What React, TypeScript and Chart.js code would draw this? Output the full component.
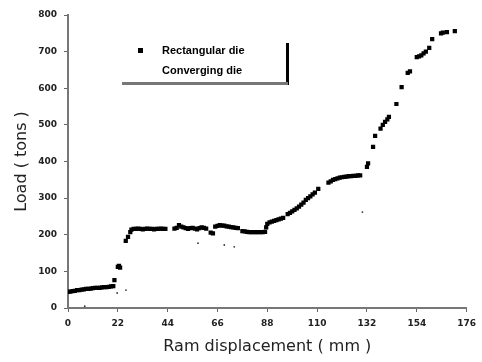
import React, { useEffect, useRef } from "react";
import { Chart, registerables } from "chart.js";

Chart.register(...registerables);

const xTicks = [0, 22, 44, 66, 88, 110, 132, 154, 176];
const yTicks = [0, 100, 200, 300, 400, 500, 600, 700, 800];

const seriesNames = ["Rectangular die", "Converging die"];

const rectX = [
  0, 1, 2, 3, 4, 5, 6, 7, 8, 9, 10, 11, 12, 13, 14, 15, 16, 17, 18, 19, 20, 20.5,
  22, 22.5, 23, 25.5, 26.5, 27.5,
  28, 29, 30, 31, 32, 33, 34, 35, 36, 37, 38, 39, 40, 41, 42, 43,
  47, 48, 49, 50, 51, 52, 53, 54, 55, 56, 57, 58, 59, 60, 61,
  63, 64,
  65, 66, 67, 68, 69, 70, 71, 72, 73, 74, 75,
  77, 78, 79, 80, 81, 82, 83, 84, 85, 86, 87,
  87.5, 88, 89, 90, 91, 92, 93, 94, 95,
  97, 98, 99, 100, 101, 102, 103, 104, 105, 106, 107, 108, 109, 110.5,
  115, 116, 117, 118, 119, 120, 121, 122, 123, 124, 125, 126, 127, 128, 129,
  132, 132.5, 134.7, 135.6,
  138, 139, 140, 141, 141.7,
  145, 147.3, 150, 151,
  154, 155, 156, 157, 158, 159.5,
  160.8, 164.7, 165.5, 167.3, 170.8,
];
const rectY = [
  44, 45, 46, 47, 49, 49, 50, 51, 52, 52, 53, 54, 55, 55, 55, 56, 57, 57, 58, 59, 60, 76,
  112, 115, 110, 183, 194, 207,
  214, 216, 216, 217, 216, 215, 216, 217, 216, 216, 215, 216, 216, 217, 216, 216,
  217, 219, 226, 222, 220, 218, 216, 218, 219, 217, 215, 218, 220, 219, 217,
  206, 204,
  222, 224, 226, 225, 225, 223, 222, 221, 220, 219, 218,
  210, 209, 208, 207, 207, 207, 207, 207, 207, 207, 208,
  220, 230, 234, 236, 238, 240, 242, 244, 246,
  256, 260, 264, 268, 272, 277, 282, 288, 295, 300, 305, 310, 315, 325,
  342, 346, 350, 352, 354, 356, 357, 358, 359, 360, 360, 361, 361, 362, 362,
  385, 395, 440, 470,
  490, 500, 508, 515, 522,
  557, 603, 642, 646,
  685, 687, 690, 695, 700, 710,
  734, 750, 752, 753, 756,
];

const convX = [7.4, 21.7, 25.6, 57.4, 69, 73.4, 130];
const convY = [5, 41, 49, 177, 172, 167, 262];

const toPoints = (xs: number[], ys: number[]) => xs.map((x, i) => ({ x, y: ys[i] }));

const legendPlugin = {
  id: "customLegend",
  afterDraw(chart: any) {
    const ctx = chart.ctx;
    ctx.save();
    ctx.fillStyle = "#000";
    ctx.fillRect(286, 43, 3, 42);
    ctx.fillStyle = "#777";
    ctx.fillRect(122, 82, 166, 3);
    ctx.fillStyle = "#000";
    ctx.fillRect(138, 48, 5, 5);
    ctx.font = "bold 11px 'Liberation Sans', Arial, sans-serif";
    ctx.textBaseline = "middle";
    ctx.textAlign = "left";
    ctx.fillText(seriesNames[0], 162, 51);
    ctx.fillText(seriesNames[1], 162, 71);
    ctx.restore();
  },
};

export default function App() {
  const ref = useRef<HTMLCanvasElement | null>(null);
  useEffect(() => {
    if (!ref.current) return;
    const chart = new Chart(ref.current, {
      type: "scatter",
      data: {
        datasets: [
          {
            label: seriesNames[0],
            data: toPoints(rectX, rectY),
            pointStyle: "rect",
            pointRadius: 3,
            backgroundColor: "#000",
            borderColor: "#000",
            borderWidth: 0,
          },
          {
            label: seriesNames[1],
            data: toPoints(convX, convY),
            pointStyle: "circle",
            pointRadius: 0.9,
            backgroundColor: "#333",
            borderColor: "#333",
            borderWidth: 0,
          },
        ],
      },
      options: {
        animation: false,
        responsive: true,
        maintainAspectRatio: false,
        layout: { padding: { top: 15, right: 9, left: 0, bottom: 0 } },
        plugins: {
          legend: { display: false },
          tooltip: { enabled: false },
        },
        scales: {
          x: {
            type: "linear",
            min: 0,
            max: 176,
            afterBuildTicks: (s: any) => {
              s.ticks = xTicks.map((v) => ({ value: v }));
            },
            afterFit: (s: any) => {
              s.height = 54;
            },
            ticks: {
              color: "#222",
              font: { family: "'DejaVu Sans', sans-serif", size: 9, weight: "bold" },
              padding: 6,
              maxRotation: 0,
            },
            grid: { display: true, drawOnChartArea: false, tickLength: 4, color: "#666" },
            border: { color: "#777", width: 2 },
            title: {
              display: true,
              text: "Ram displacement ( mm )",
              color: "#222",
              font: { family: "'DejaVu Sans', sans-serif", size: 16 },
              padding: { top: 0, bottom: 6 },
            },
          },
          y: {
            type: "linear",
            min: 0,
            max: 800,
            afterBuildTicks: (s: any) => {
              s.ticks = yTicks.map((v) => ({ value: v }));
            },
            afterFit: (s: any) => {
              s.width = 68;
            },
            ticks: {
              color: "#222",
              font: { family: "'DejaVu Sans', sans-serif", size: 9, weight: "bold" },
              padding: 7,
            },
            grid: { display: true, drawOnChartArea: false, tickLength: 4, color: "#666" },
            border: { color: "#777", width: 2 },
            title: {
              display: true,
              text: "Load ( tons )",
              color: "#222",
              font: { family: "'DejaVu Sans', sans-serif", size: 16 },
              padding: { top: 12, bottom: 0 },
            },
          },
        },
      },
      plugins: [legendPlugin],
    } as any);
    return () => chart.destroy();
  }, []);
  return (
    <div style={{ position: "fixed", left: 0, top: 0, width: 482, height: 362, background: "#fff" }}>
      <canvas ref={ref} />
    </div>
  );
}
